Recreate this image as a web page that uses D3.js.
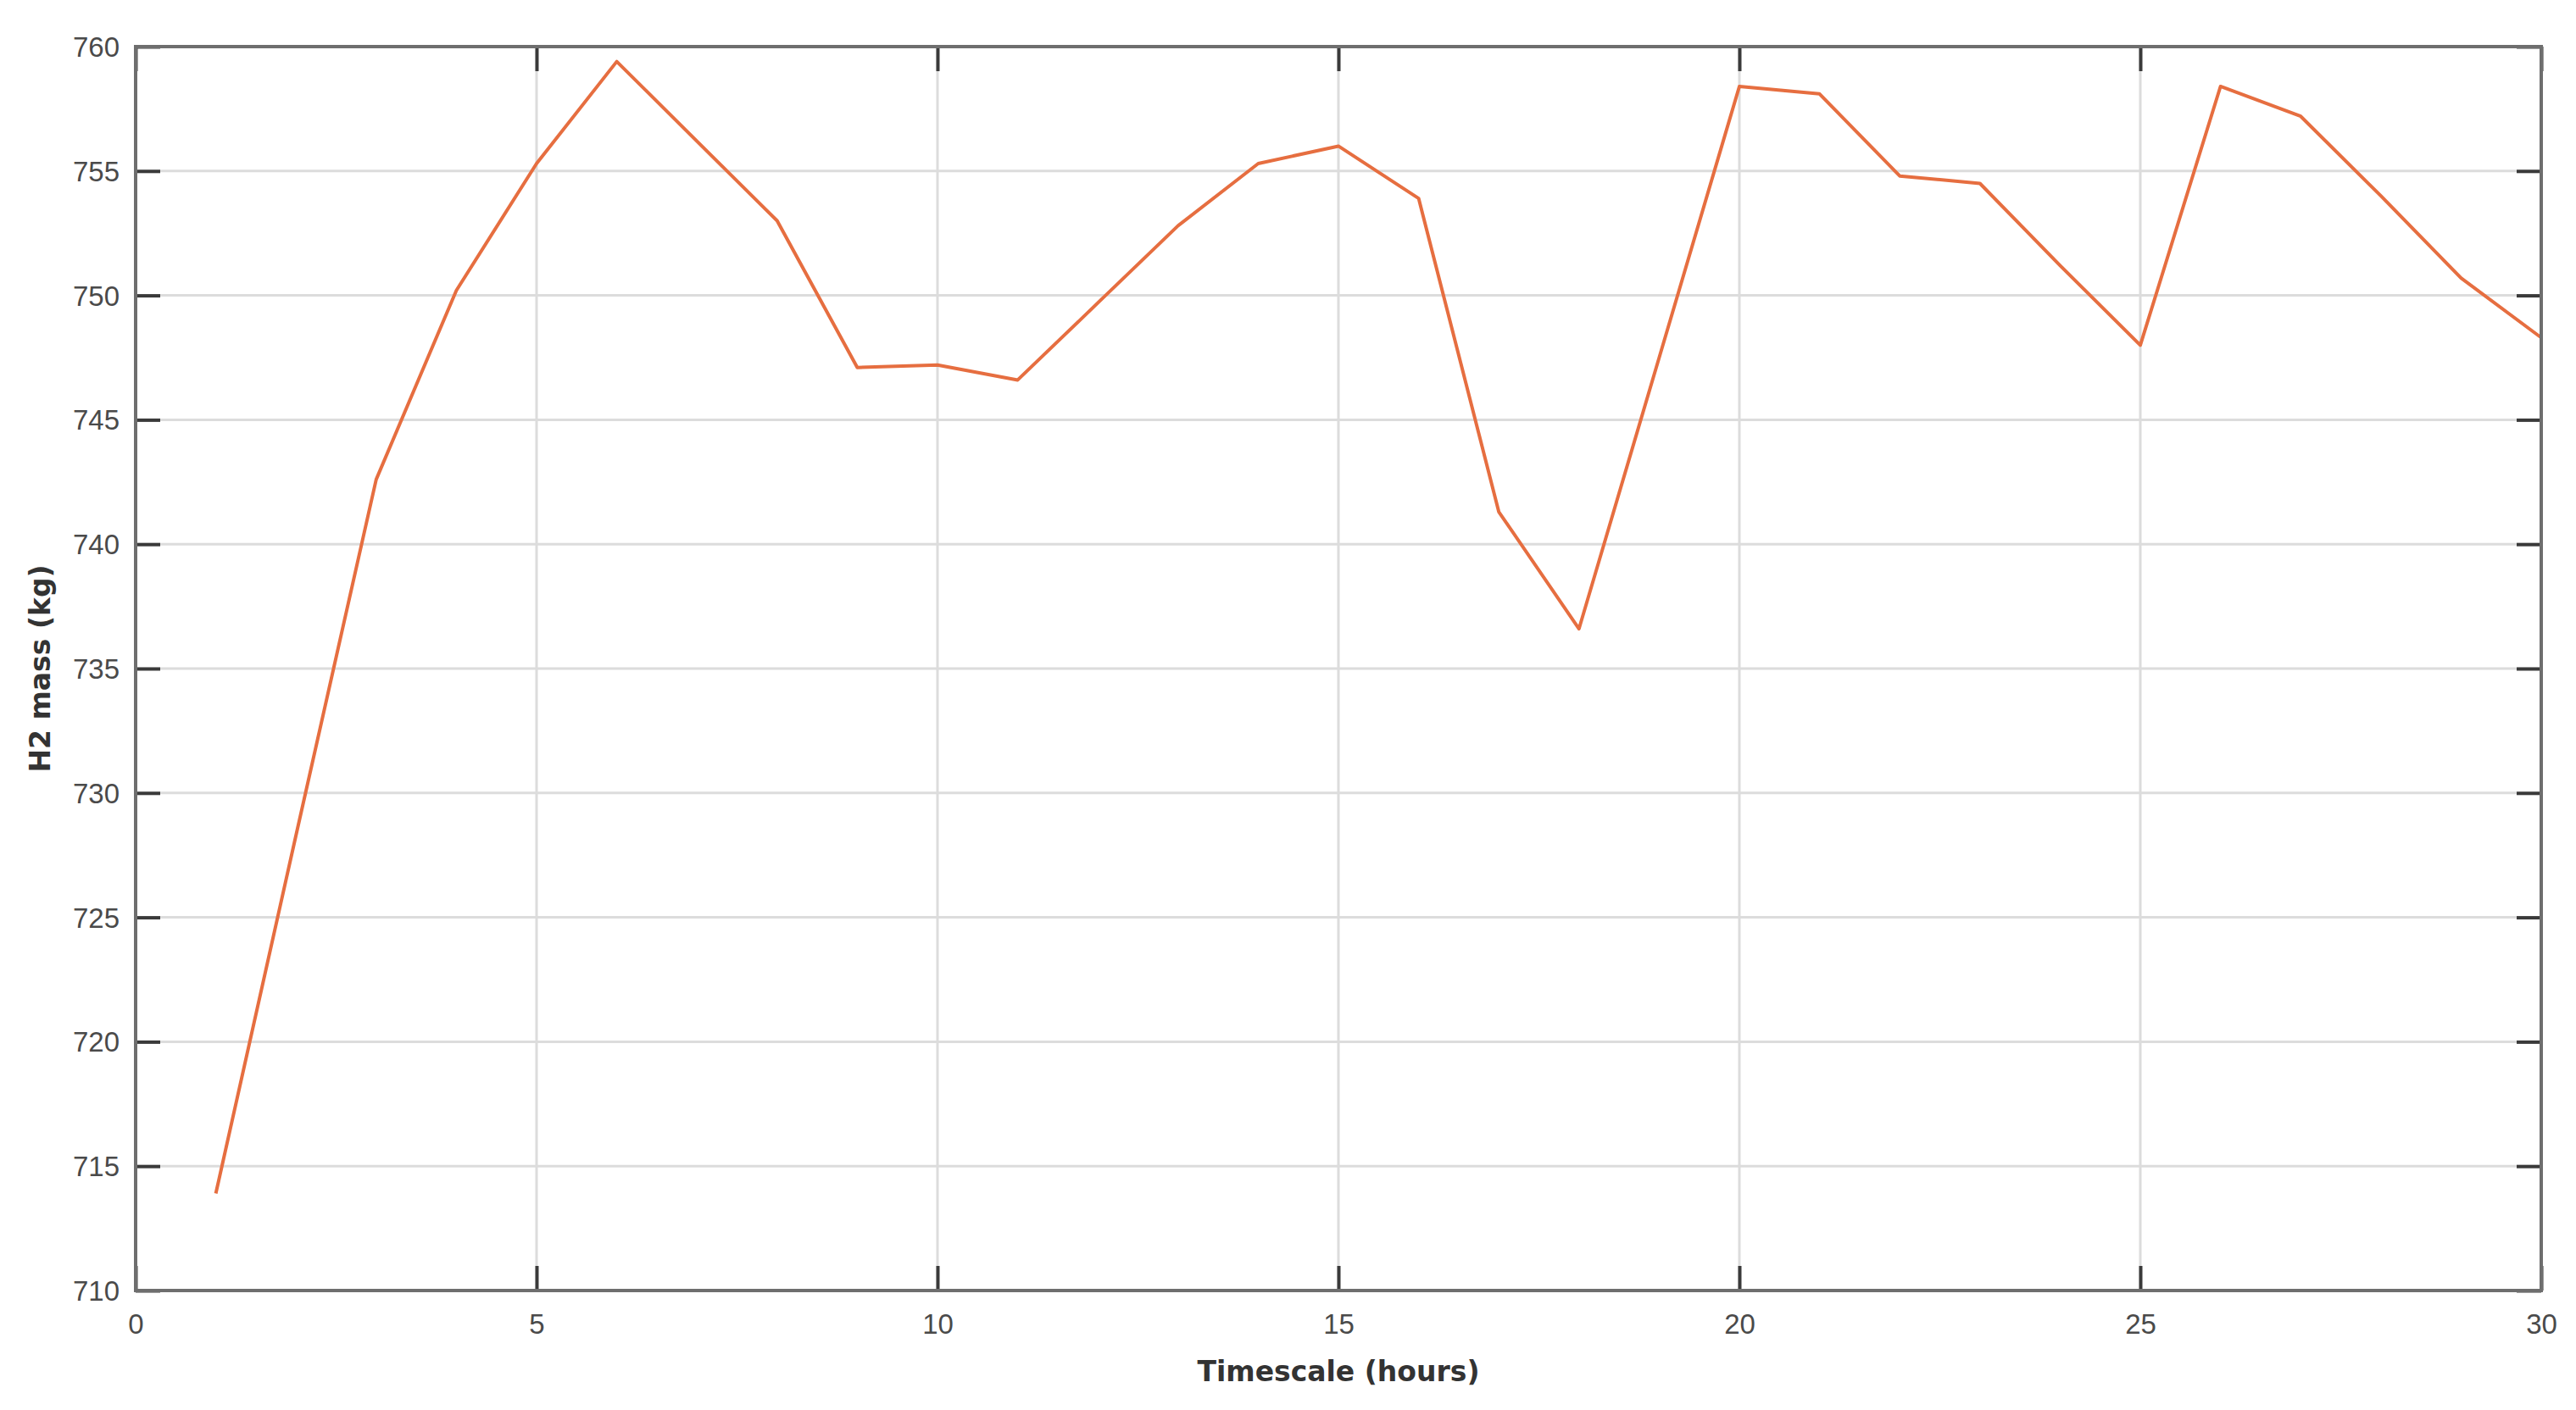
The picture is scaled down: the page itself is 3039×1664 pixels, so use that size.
<!DOCTYPE html>
<html>
<head>
<meta charset="utf-8">
<script src="https://cdn.jsdelivr.net/npm/d3@7"></script>
<style>
  html, body { margin: 0; padding: 0; background: #ffffff; }
  svg { display: block; }
</style>
</head>
<body>
<svg id="chart" width="3039" height="1664"></svg>
<script>
// ---- data ----
const hours = [1,2,3,4,5,6,7,8,9,10,11,12,13,14,15,16,17,18,19,20,21,22,23,24,25,26,27,28,29,30];
const h2Mass = [713.9,728.3,742.6,750.2,755.3,759.4,756.2,753.0,747.1,747.2,746.6,749.7,752.8,755.3,756.0,753.9,741.3,736.6,747.5,758.4,758.1,754.8,754.5,751.2,748.0,758.4,757.2,754.0,750.7,748.3];
const xTicks = [0,5,10,15,20,25,30];
const yTicks = [710,715,720,725,730,735,740,745,750,755,760];
const xLabel = "Timescale (hours)";
const yLabel = "H2 mass (kg)";

// ---- layout ----
const W = 3039, H = 1664;
const m = {left: 160, right: W - 2998, top: 55, bottom: H - 1523};
const iw = W - m.left - m.right, ih = H - m.top - m.bottom;

const svg = d3.select("#chart");
const g = svg.append("g").attr("transform", `translate(${m.left},${m.top})`);

const x = d3.scaleLinear().domain([0, 30]).range([0, iw]);
const y = d3.scaleLinear().domain([710, 760]).range([ih, 0]);

const tickFont = "'Liberation Sans', Arial, sans-serif";

// grid
g.append("g").selectAll("line.gx").data(xTicks.slice(1, -1)).join("line")
  .attr("x1", d => x(d)).attr("x2", d => x(d)).attr("y1", 0).attr("y2", ih)
  .attr("stroke", "#dcdcdc").attr("stroke-width", 3);
g.append("g").selectAll("line.gy").data(yTicks.slice(1, -1)).join("line")
  .attr("y1", d => y(d)).attr("y2", d => y(d)).attr("x1", 0).attr("x2", iw)
  .attr("stroke", "#dcdcdc").attr("stroke-width", 3);

// line
const line = d3.line().x((d, i) => x(hours[i])).y(d => y(d));
g.append("path").datum(h2Mass)
  .attr("d", line)
  .attr("fill", "none")
  .attr("stroke", "#E66E40")
  .attr("stroke-width", 4)
  .attr("stroke-linejoin", "round");

// axes (inner ticks on all sides, MATLAB style)
const tl = 29;
function styleAxis(sel) {
  sel.select(".domain").remove();
  sel.selectAll(".tick line").attr("stroke", "#3a3a3a").attr("stroke-width", 4);
  sel.selectAll(".tick text").attr("fill", "#4a4a4a")
    .style("font-family", tickFont).style("font-size", "33px");
}
const xb = g.append("g").attr("transform", `translate(0,${ih})`)
  .call(d3.axisBottom(x).tickValues(xTicks).tickSize(-tl).tickPadding(0).tickFormat(d3.format("d")));
styleAxis(xb);
xb.selectAll(".tick text").attr("y", 51).attr("dy", 0);

const xt = g.append("g")
  .call(d3.axisTop(x).tickValues(xTicks).tickSize(-tl).tickFormat(""));
styleAxis(xt);

const yl = g.append("g")
  .call(d3.axisLeft(y).tickValues(yTicks).tickSize(-tl).tickPadding(0).tickFormat(d3.format("d")));
styleAxis(yl);
yl.selectAll(".tick text").attr("x", -19).attr("dy", "0.35em");

const yr = g.append("g").attr("transform", `translate(${iw},0)`)
  .call(d3.axisRight(y).tickValues(yTicks).tickSize(-tl).tickFormat(""));
styleAxis(yr);

// frame
g.append("rect").attr("x", 0).attr("y", 0).attr("width", iw).attr("height", ih)
  .attr("fill", "none").attr("stroke", "#6e6e6e").attr("stroke-width", 4);

// axis labels
svg.append("text")
  .attr("x", m.left + x(15)).attr("y", 1630)
  .attr("text-anchor", "middle")
  .attr("fill", "#333")
  .style("font-family", "'DejaVu Sans', Verdana, sans-serif")
  .style("font-weight", "bold").style("font-size", "33px")
  .text(xLabel);

svg.append("text")
  .attr("transform", `translate(59,${m.top + ih / 2}) rotate(-90)`)
  .attr("text-anchor", "middle")
  .attr("fill", "#333")
  .style("font-family", "'DejaVu Sans', Verdana, sans-serif")
  .style("font-weight", "bold").style("font-size", "33px")
  .text(yLabel);
</script>
</body>
</html>
